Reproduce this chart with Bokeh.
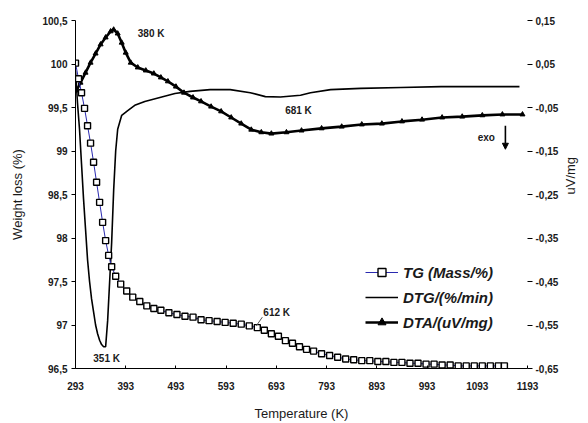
import math
from bokeh.plotting import figure
from bokeh.models import (Range1d, LinearAxis, FixedTicker, CustomJSTickFormatter,
                          Label, Legend, LegendItem, Arrow, NormalHead)
from bokeh.embed import file_html
from bokeh.resources import INLINE

# ---------------- data ----------------
tg_T = [293, 299, 305, 311, 317, 323, 329, 335, 341, 347, 353, 359, 365, 373, 383,
        395, 407, 421, 435, 449, 463, 479, 495, 511, 527, 543, 559, 575, 591, 607,
        623, 639, 655, 669, 683, 697, 711, 725, 739, 753, 767, 783, 799, 815, 831,
        847, 863, 879, 895, 911, 927, 943, 959, 975, 991, 1007, 1023, 1039, 1055,
        1071, 1087, 1103, 1119, 1135, 1147]
tg_W = [100.01, 99.83, 99.67, 99.49, 99.29, 99.09, 98.87, 98.64, 98.41, 98.18,
        97.97, 97.80, 97.67, 97.56, 97.47, 97.39, 97.32, 97.27, 97.22, 97.19,
        97.17, 97.14, 97.12, 97.10, 97.09, 97.06, 97.05, 97.04, 97.03, 97.02,
        97.01, 96.99, 96.97, 96.94, 96.90, 96.87, 96.82, 96.79, 96.75, 96.72,
        96.70, 96.67, 96.65, 96.63, 96.61, 96.60, 96.59, 96.59, 96.58, 96.58,
        96.57, 96.57, 96.56, 96.56, 96.55, 96.55, 96.54, 96.54, 96.53, 96.53,
        96.53, 96.53, 96.53, 96.53, 96.53]

dtg_T = [293, 297, 301, 305, 309, 313, 317, 321, 325, 329, 333, 337, 341, 345, 349,
         353, 357, 361, 365, 369, 373, 377, 385, 397, 411, 431, 461, 491, 521, 561,
         601, 641, 671, 701, 741, 761, 801, 861, 941, 1021, 1101, 1177]
dtg_V = [0.035, -0.04, -0.10, -0.18, -0.26, -0.33, -0.40, -0.45, -0.49, -0.52,
         -0.55, -0.57, -0.585, -0.595, -0.60, -0.60, -0.54, -0.45, -0.36, -0.24,
         -0.15, -0.10, -0.068, -0.057, -0.045, -0.036, -0.027, -0.018, -0.013,
         -0.009, -0.009, -0.016, -0.025, -0.026, -0.022, -0.016, -0.009, -0.006,
         -0.004, -0.002, -0.002, -0.002]

dta_T = [295, 303, 313, 323, 333, 343, 353, 363, 369, 377, 385, 393, 403, 417, 433,
         449, 463, 477, 493, 509, 527, 543, 563, 583, 603, 623, 643, 663, 683, 713,
         743, 783, 823, 863, 903, 943, 983, 1023, 1063, 1103, 1143, 1183]
dta_V = [-0.011, 0.007, 0.030, 0.053, 0.074, 0.095, 0.111, 0.125, 0.129, 0.120,
         0.099, 0.076, 0.053, 0.042, 0.035, 0.028, 0.019, 0.010, -0.002, -0.016,
         -0.027, -0.036, -0.048, -0.059, -0.073, -0.087, -0.101, -0.107, -0.110,
         -0.107, -0.103, -0.098, -0.094, -0.089, -0.087, -0.082, -0.078, -0.073,
         -0.071, -0.068, -0.066, -0.066]

x_ticks = [293, 393, 493, 593, 693, 793, 893, 993, 1093, 1193]
left_ticks = [96.5, 97.0, 97.5, 98.0, 98.5, 99.0, 99.5, 100.0, 100.5]
right_ticks = [-0.65, -0.55, -0.45, -0.35, -0.25, -0.15, -0.05, 0.05, 0.15]

FONT = "Liberation Sans"
TXT = "#1a1a1a"

p = figure(width=588, height=423, output_backend="svg", toolbar_location=None,
           x_range=Range1d(293, 1193), y_range=Range1d(96.5, 100.5),
           min_border_left=75, min_border_right=61, min_border_top=20,
           min_border_bottom=55)
p.extra_y_ranges = {"r": Range1d(-0.65, 0.15)}
p.grid.visible = False
p.outline_line_color = None
p.background_fill_color = "white"

# x axis
xa = p.xaxis[0]
xa.ticker = FixedTicker(ticks=x_ticks)
xa.major_tick_in = 3
xa.major_tick_out = 0
xa.minor_tick_line_color = None
xa.axis_line_color = "black"
xa.major_label_text_font = FONT
xa.major_label_text_font_size = "10px"
xa.major_label_text_font_style = "bold"
xa.major_label_text_color = TXT
xa.major_label_standoff = 13
xa.axis_label = "Temperature (K)"
xa.axis_label_text_font = FONT
xa.axis_label_text_font_size = "13px"
xa.axis_label_text_font_style = "normal"
xa.axis_label_text_color = TXT
xa.axis_label_standoff = 13

# left axis
ya = p.yaxis[0]
ya.ticker = FixedTicker(ticks=left_ticks)
ya.formatter = CustomJSTickFormatter(code="""
var s = (Math.abs(tick - Math.round(tick)) < 1e-6) ? tick.toFixed(0) : tick.toFixed(1);
return s.replace('.', ',');
""")
ya.major_tick_in = 0
ya.major_tick_out = 4
ya.minor_tick_line_color = None
ya.axis_line_color = "black"
ya.major_label_text_font = FONT
ya.major_label_text_font_size = "10px"
ya.major_label_text_font_style = "bold"
ya.major_label_text_color = TXT
ya.major_label_standoff = 4
ya.axis_label = "Weight loss (%)"
ya.axis_label_text_font = FONT
ya.axis_label_text_font_size = "13px"
ya.axis_label_text_font_style = "normal"
ya.axis_label_text_color = TXT
ya.axis_label_standoff = 14

# right axis
ra = LinearAxis(y_range_name="r", ticker=FixedTicker(ticks=right_ticks))
ra.formatter = CustomJSTickFormatter(code="return tick.toFixed(2).replace('.', ',');")
ra.axis_line_color = None
ra.major_tick_in = 0
ra.major_tick_out = 5
ra.minor_tick_line_color = None
ra.major_label_text_font = FONT
ra.major_label_text_font_size = "10px"
ra.major_label_text_font_style = "bold"
ra.major_label_text_color = TXT
ra.major_label_standoff = 3
ra.axis_label = "uV/mg"
ra.axis_label_text_font = FONT
ra.axis_label_text_font_size = "13px"
ra.axis_label_text_font_style = "normal"
ra.axis_label_text_color = TXT
ra.axis_label_standoff = 9
try:
    ra.axis_label_orientation = math.pi / 2
except Exception:
    pass
p.add_layout(ra, "right")

# curves
dtg = p.line(dtg_T, dtg_V, y_range_name="r", line_color="black", line_width=1.6)
dta_l = p.line(dta_T, dta_V, y_range_name="r", line_color="black", line_width=2.6)
dta_m = p.scatter(dta_T, dta_V, y_range_name="r", marker="triangle", size=5,
                  fill_color="black", line_color="black")
tg_l = p.line(tg_T, tg_W, line_color="#2a2ab0", line_width=1)
tg_m = p.scatter(tg_T, tg_W, marker="square", size=6, fill_color="white",
                 line_color="black", line_width=1.4)

legend = Legend(items=[
    LegendItem(label="TG (Mass/%)", renderers=[tg_l, tg_m]),
    LegendItem(label="DTG/(%/min)", renderers=[dtg]),
    LegendItem(label="DTA/(uV/mg)", renderers=[dta_l, dta_m]),
], location=(290, 36))
legend.border_line_color = None
legend.background_fill_alpha = 0
legend.padding = 0
legend.margin = 0
legend.spacing = 5
legend.glyph_width = 33
legend.glyph_height = 20
legend.label_height = 20
legend.label_standoff = 5
legend.label_text_font = FONT
legend.label_text_font_size = "15px"
legend.label_text_font_style = "bold italic"
legend.label_text_color = TXT
p.add_layout(legend)

# annotations
def ann(x, y, text, align="left"):
    p.add_layout(Label(x=x, y=y, text=text, text_font=FONT, text_font_size="10px",
                       text_font_style="bold", text_color=TXT, text_align=align,
                       text_baseline="middle"))

ann(417, 100.35, "380 K")
ann(355, 96.62, "351 K", "center")
ann(737, 99.465, "681 K", "center")
ann(667, 97.14, "612 K")
ann(1111, 99.155, "exo", "center")

p.segment(x0=[653], y0=[96.99], x1=[665], y1=[97.09], line_color="#555555", line_width=1)
p.add_layout(Arrow(end=NormalHead(size=6, fill_color="black", line_color="black"),
                   x_start=1149, y_start=99.29, x_end=1149, y_end=99.02,
                   line_color="black", line_width=1.6))

open("out.html", "w").write(file_html(p, INLINE))
